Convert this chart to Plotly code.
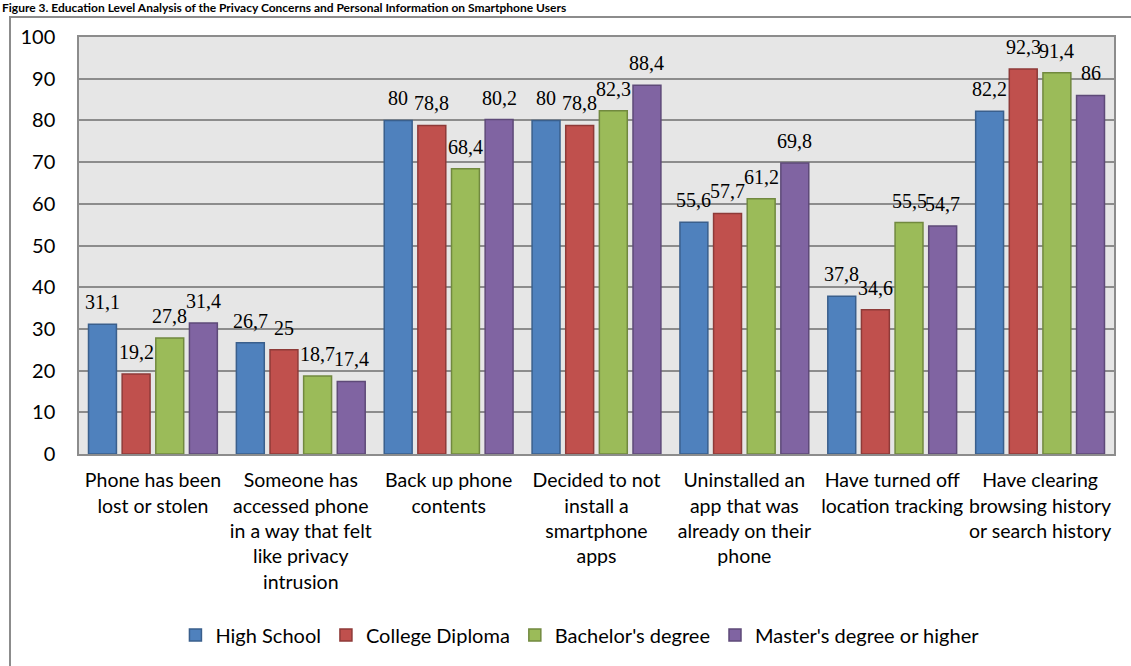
import plotly.graph_objects as go

categories = [
    "Phone has been<br>lost or stolen",
    "Someone has<br>accessed phone<br>in a way that felt<br>like privacy<br>intrusion",
    "Back up phone<br>contents",
    "Decided to not<br>install a<br>smartphone<br>apps",
    "Uninstalled an<br>app that was<br>already on their<br>phone",
    "Have turned off<br>location tracking",
    "Have clearing<br>browsing history<br>or search history",
]
series_names = ["High School", "College Diploma", "Bachelor's degree", "Master's degree or higher"]
high_school = [31.1, 26.7, 80, 80, 55.6, 37.8, 82.2]
college_diploma = [19.2, 25, 78.8, 78.8, 57.7, 34.6, 92.3]
bachelors = [27.8, 18.7, 68.4, 82.3, 61.2, 55.5, 91.4]
masters = [31.4, 17.4, 80.2, 88.4, 69.8, 54.7, 86]
y_ticks = [0, 10, 20, 30, 40, 50, 60, 70, 80, 90, 100]

series = [high_school, college_diploma, bachelors, masters]
fills = ["#4F81BD", "#C0504D", "#9BBB59", "#8064A2"]
edges = ["#3A5F8C", "#8E3A38", "#71893F", "#5E4A78"]

BARGAP = 0.09
BARGROUPGAP = 0.17

W, H = 1131, 666
L, R, T, B = 79, 17, 37, 212
PW, PH = W - L - R, H - T - B

def fmt(v):
    s = ("%g" % v)
    return s.replace(".", ",")

fig = go.Figure()
for name, vals, fc, ec in zip(series_names, series, fills, edges):
    fig.add_trace(go.Bar(
        name=name, x=list(range(len(categories))), y=vals,
        marker=dict(color=fc, line=dict(color=ec, width=1.5)),
    ))

# data labels above bars
n = len(series)
slot = (1 - BARGAP) / n
annotations = []
for i, vals in enumerate(series):
    off = -(1 - BARGAP) / 2 + slot * (i + 0.5)
    for j, v in enumerate(vals):
        annotations.append(dict(
            x=j + off, y=v, xref="x", yref="y", text=fmt(v), showarrow=False,
            yanchor="bottom", xanchor="center", yshift=9,
            font=dict(family="Liberation Serif", size=20, color="#000000"),
        ))

# figure caption at the very top
annotations.append(dict(
    x=(0 - L) / PW, y=(H - B - 7) / PH, xref="paper", yref="paper",
    xanchor="left", yanchor="middle", showarrow=False,
    text="<b>Figure 3. Education Level Analysis of the Privacy Concerns and Personal Information on Smartphone Users</b>",
    font=dict(family="Lato", size=12, color="#000000"),
))

fig.update_layout(
    width=W, height=H,
    margin=dict(l=L, r=R, t=T, b=B, pad=0),
    paper_bgcolor="#FFFFFF",
    plot_bgcolor="#E6E6E6",
    barmode="group",
    bargap=BARGAP, bargroupgap=BARGROUPGAP,
    font=dict(family="Lato", size=20, color="#000000"),
    showlegend=True,
    legend=dict(
        orientation="h", x=0.484, xanchor="center", y=-0.434, yanchor="middle",
        font=dict(family="Lato", size=20), traceorder="normal",
        bgcolor="rgba(0,0,0,0)",
    ),
    xaxis=dict(
        tickmode="array", tickvals=list(range(len(categories))), ticktext=categories,
        range=[-0.5, len(categories) - 0.5], tickangle=0,
        showline=True, linecolor="#8C8C8C", linewidth=1.5, mirror=True,
        showgrid=False, ticks="", tickfont=dict(family="Lato", size=19.5),
        ticklabelstandoff=8,
    ),
    yaxis=dict(
        range=[0, 100], tickvals=y_ticks, ticks="",
        showline=True, linecolor="#8C8C8C", linewidth=1.5, mirror=True,
        showgrid=True, gridcolor="#8C8C8C", gridwidth=1.5, zeroline=False,
        tickfont=dict(family="Lato", size=20), ticklabelstandoff=18,
    ),
    annotations=annotations,
    shapes=[dict(
        type="rect", xref="paper", yref="paper",
        x0=(10 - L) / PW, x1=(1180 - L) / PW,
        y0=(H - B - 720) / PH, y1=(H - B - 17) / PH,
        line=dict(color="#8C8C8C", width=2), fillcolor="rgba(0,0,0,0)", layer="below",
    )],
)

fig.write_html("out.html")
